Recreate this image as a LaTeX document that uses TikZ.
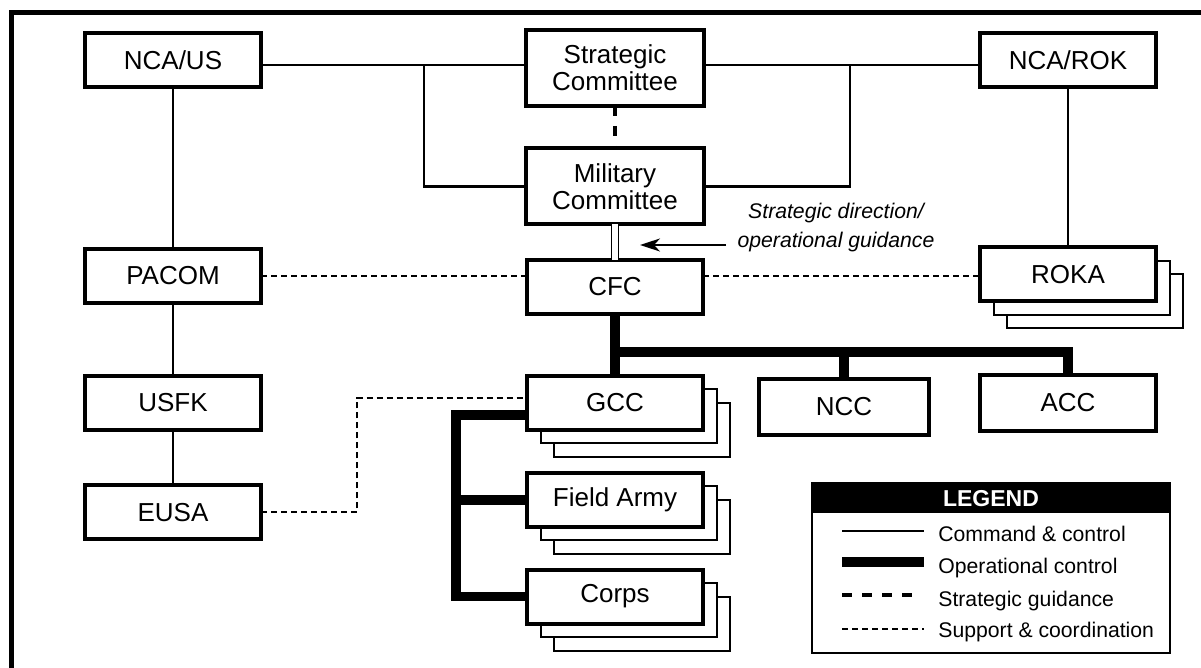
\documentclass[tikz,border=0pt]{standalone}
\usepackage{fontspec}
\setmainfont{Liberation Sans}
\usetikzlibrary{arrows.meta,backgrounds}

\tikzset{
  unit/.style={draw, fill=white, line width=2pt, minimum width=88pt, minimum height=27pt,
    inner sep=2pt, outer sep=0pt, align=center, font=\fontsize{13}{13.5}\selectfont},
  committee/.style={unit, minimum width=89pt, minimum height=38pt},
  backcopy/.style={draw, fill=white, line width=1pt},
  cmd/.style={line width=1.25pt},
  opcon/.style={line width=4.75pt},
  stratg/.style={line width=2pt, dash pattern=on 5pt off 5pt},
  suppt/.style={line width=1pt, dash pattern=on 3pt off 2pt},
  legendtext/.style={anchor=base west, inner sep=0pt, font=\fontsize{10.6}{12}\selectfont},
}

\begin{document}
\begin{tikzpicture}[x=0.5pt, y=-0.5pt]
\useasboundingbox (0,0) rectangle (1201,668);
\clip (0,0) rectangle (1201,668);
\draw[line width=2.5pt] (11,13) rectangle (1260,720);

% national and alliance level
\node[unit] (ncaus) at (173,60) {NCA/US};
\node[committee] (sc) at (615,68) {Strategic\\Committee};
\node[committee] (mc) at (615,186.5) {Military\\Committee};
\node[unit] (ncarok) at (1068,60) {NCA/ROK};
\coordinate (branchl) at (424,65);
\coordinate (branchr) at (850,65);
\draw[cmd] (ncaus.east |- branchl) -- (sc.west |- branchl);
\draw[cmd] (sc.east |- branchr) -- (ncarok.west |- branchr);
\draw[cmd] (branchl) |- (mc.west);
\draw[cmd] (mc.east) -| (branchr);
\draw[stratg] (sc.south) -- (mc.north);

% commands
\node[unit] (pacom) at (173,276) {PACOM};
\node[unit] (cfc) at (615,287) {CFC};
\node[unit] (roka) at (1068,274.5) {ROKA};
\node[unit] (usfk) at (173,403) {USFK};
\node[unit] (eusa) at (173,512.5) {EUSA};
\node[unit] (gcc) at (615,403) {GCC};
\node[unit] (fa) at (615,500) {Field Army};
\node[unit] (corps) at (615,596.5) {Corps};
\node[unit, minimum width=85pt, minimum height=28pt] (ncc) at (844,407) {NCC};
\node[unit, minimum height=28pt] (acc) at (1068,403) {ACC};

\begin{scope}[on background layer]
\foreach \n in {roka,gcc,fa,corps}
  \foreach \s in {2,1}
    \draw[backcopy] ([shift={(\s*13.5,\s*13.5)}]\n.south west) rectangle ([shift={(\s*13.5,\s*13.5)}]\n.north east);
\end{scope}

\draw[double, double distance=2.75pt, line width=0.75pt] (mc.south) -- (cfc.north);
\node[inner sep=0pt, align=center, font=\fontsize{10.6}{14.5}\selectfont\itshape] (dirlabel) at (836,228) {Strategic direction/\\operational guidance};
\coordinate (arrowtip) at (640,245);
\coordinate (arrowtail) at ([xshift=-5.5pt]dirlabel.west);
\draw[line width=1pt, -{Stealth[length=10pt, width=6.5pt, inset=3pt]}] (arrowtail |- arrowtip) -- (arrowtip);

\draw[cmd] (ncaus.south) -- (pacom.north);
\draw[cmd] (pacom.south) -- (usfk.north);
\draw[cmd] (usfk.south) -- (eusa.north);
\draw[cmd] (ncarok.south) -- (roka.north);

\draw[suppt] (pacom.east) -- (pacom.east -| cfc.west);
\draw[suppt] (cfc.east |- pacom.east) -- (roka.west |- pacom.east);
\coordinate (bend) at (357,398);
\draw[suppt] (eusa.east) -| (bend) -- (gcc.west |- bend);

% operational control
\coordinate (opbar) at (615,352);
\coordinate (opspine) at (456,415);
\draw[opcon] (cfc.south) -- (gcc.north);
\draw[opcon] (cfc.south |- opbar) -| (acc.north);
\draw[opcon] (ncc.north |- opbar) -- (ncc.north);
\draw[opcon] (gcc.west |- opspine) -- (opspine) |- (corps.west);
\draw[opcon] (fa.west) -- (fa.west -| opspine);

% legend
\draw[line width=1pt] (812,483) rectangle (1170,653);
\fill (812,483) rectangle (1170,513);
\node[text=white, font=\bfseries\fontsize{11.5}{13}\selectfont] (legendhead) at (991,498.5) {LEGEND};
\node[legendtext] (keycmd) at (938,542) {Command \& control};
\node[legendtext] (keyop) at (938,573.5) {Operational control};
\node[legendtext] (keystrat) at (938,606) {Strategic guidance};
\node[legendtext] (keysupp) at (938,638) {Support \& coordination};
\draw[cmd] (842,531) -- (924,531);
\draw[line width=5pt] (842,562) -- (924,562);
\draw[stratg] (842,595) -- (917,595);
\draw[suppt] (842,629) -- (924,629);
\end{tikzpicture}
\end{document}
